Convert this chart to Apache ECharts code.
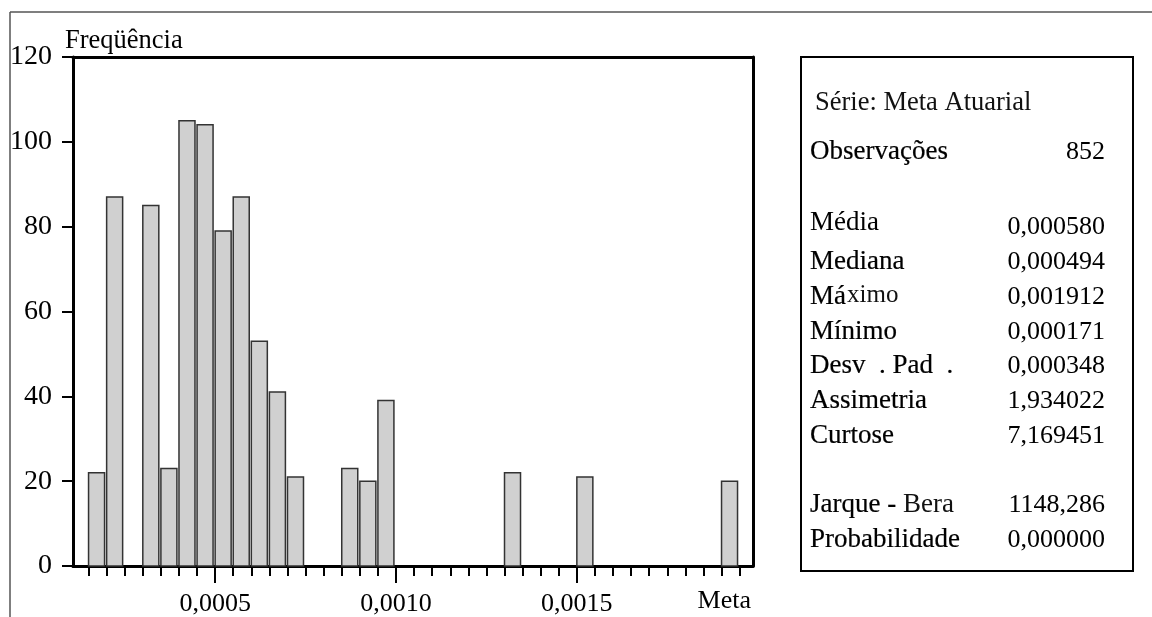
<!DOCTYPE html>
<html>
<head>
<meta charset="utf-8">
<script src="https://cdn.jsdelivr.net/npm/echarts@6/dist/echarts.min.js"></script>
<style>
html,body{margin:0;padding:0;background:#fff;}
#chart{width:1152px;height:617px;}
</style>
</head>
<body>
<div id="chart"></div>
<script>
// ---- data ----
const binWidth = 0.00005;
const binStarts = [0.00015, 0.00020, 0.00030, 0.00035, 0.00040, 0.00045, 0.00050, 0.00055, 0.00060, 0.00065, 0.00070, 0.00085, 0.00090, 0.00095, 0.00130, 0.00150, 0.00190];
const frequencies = [22, 87, 85, 23, 105, 104, 79, 87, 53, 41, 21, 23, 20, 39, 22, 21, 20];
const xMinorTicks = [0.00015,0.00020,0.00025,0.00030,0.00035,0.00040,0.00045,0.00050,0.00055,0.00060,0.00065,0.00070,0.00075,0.00080,0.00085,0.00090,0.00095,0.00100,0.00105,0.00110,0.00115,0.00120,0.00125,0.00130,0.00135,0.00140,0.00145,0.00150,0.00155,0.00160,0.00165,0.00170,0.00175,0.00180,0.00185,0.00190,0.00195];
const xMajorTicks = [0.0005, 0.0010, 0.0015];
const xTickLabels = ['0,0005', '0,0010', '0,0015'];
const yTicks = [0, 20, 40, 60, 80, 100, 120];
const xAxisName = 'Meta';
const yAxisName = 'Freqüência';
const seriesTitle = 'Série: Meta Atuarial';
const statLabels = ['Observações', 'Média', 'Mediana', 'Má', 'Mínimo', 'Desv  . Pad  .', 'Assimetria', 'Curtose', 'Jarque - ', 'Probabilidade'];
const statLabelTails = ['', '', '', 'ximo', '', '', '', '', 'Bera', ''];
const statValues = ['852', '0,000580', '0,000494', '0,001912', '0,000171', '0,000348', '1,934022', '7,169451', '1148,286', '0,000000'];

// ---- layout ----
const FONT = 'Liberation Serif';
const f = s => s + 'px "' + FONT + '"';
const xMin = 0.000107, xMax = 0.001987;
const statRowY = [152, 223, 262, 297, 332, 366, 401, 436, 505, 540];
const lightRows = [1];

const chart = echarts.init(document.getElementById('chart'), null, {renderer: 'canvas'});

const graphics = [
  {type: 'line', shape: {x1: 10, y1: 12, x2: 1152, y2: 12}, style: {stroke: '#555', lineWidth: 1.5}},
  {type: 'line', shape: {x1: 10, y1: 12, x2: 10, y2: 617}, style: {stroke: '#555', lineWidth: 1.5}},
  {type: 'rect', shape: {x: 801, y: 57, width: 332, height: 514}, style: {fill: 'none', stroke: '#000', lineWidth: 2}},
  {type: 'text', x: 65, y: 41, style: {text: yAxisName, font: f(26.5), fill: '#000', textAlign: 'left', textVerticalAlign: 'middle'}},
  {type: 'text', x: 751, y: 601, style: {text: xAxisName, font: f(26), fill: '#000', textAlign: 'right', textVerticalAlign: 'middle'}},
  {type: 'text', x: 815, y: 103, style: {text: seriesTitle, font: f(26.5), fill: '#111', textAlign: 'left', textVerticalAlign: 'middle'}}
];
const measure = document.createElement('canvas').getContext('2d');
statLabels.forEach((lab, i) => {
  const heavy = lightRows.indexOf(i) < 0;
  graphics.push({type: 'text', x: 810, y: statRowY[i], style: {text: lab, font: f(27), fill: '#000', stroke: heavy ? '#000' : null, lineWidth: heavy ? 0.2 : 0, textAlign: 'left', textVerticalAlign: 'middle'}});
  if (statLabelTails[i]) {
    measure.font = f(27);
    const w = measure.measureText(lab).width;
    const raised = i === 3;
    graphics.push({type: 'text', x: 810 + w + (raised ? 1 : 0), y: statRowY[i] - (raised ? 1.5 : 0), style: {text: statLabelTails[i], font: f(raised ? 25 : 27), fill: '#111', textAlign: 'left', textVerticalAlign: 'middle'}});
  }
  graphics.push({type: 'text', x: 1105, y: statRowY[i] + (i === 1 ? 4 : 0), style: {text: statValues[i], font: f(26), fill: '#000', textAlign: 'right', textVerticalAlign: 'middle'}});
});

const option = {
  animation: false,
  backgroundColor: '#fff',
  textStyle: {fontFamily: FONT},
  grid: {left: 73, right: 399, top: 57, bottom: 51, containLabel: false},
  xAxis: [
    {
      type: 'value', min: xMin, max: xMax, position: 'bottom',
      axisLine: {show: true, lineStyle: {color: '#000', width: 3}},
      axisTick: {show: true, customValues: xMinorTicks, length: 10, lineStyle: {color: '#000', width: 2}},
      axisLabel: {show: false},
      splitLine: {show: false}
    },
    {
      type: 'value', min: xMin, max: xMax, position: 'bottom',
      axisLine: {show: false},
      axisTick: {show: true, customValues: xMajorTicks, length: 17, lineStyle: {color: '#000', width: 2}},
      axisLabel: {show: true, customValues: xMajorTicks, margin: 25, fontSize: 26, fontFamily: FONT, color: '#000',
        formatter: v => { const i = xMajorTicks.findIndex(t => Math.abs(t - v) < 1e-9); return i >= 0 ? xTickLabels[i] : ''; }},
      splitLine: {show: false}
    },
    {
      type: 'value', min: xMin, max: xMax, position: 'top',
      axisLine: {show: true, lineStyle: {color: '#000', width: 3}},
      axisTick: {show: false}, axisLabel: {show: false}, splitLine: {show: false}
    }
  ],
  yAxis: [
    {
      type: 'value', min: 0, max: 120, interval: 20, position: 'left',
      axisLine: {show: true, lineStyle: {color: '#000', width: 3}},
      axisTick: {show: true, length: 11, lineStyle: {color: '#000', width: 2}},
      axisLabel: {show: true, margin: 21, fontSize: 28, fontFamily: FONT, color: '#000',
        formatter: v => yTicks.indexOf(v) >= 0 ? String(v) : ''},
      splitLine: {show: false}
    },
    {
      type: 'value', min: 0, max: 120, position: 'right',
      axisLine: {show: true, lineStyle: {color: '#000', width: 3}},
      axisTick: {show: false}, axisLabel: {show: false}, splitLine: {show: false}
    }
  ],
  series: [{
    type: 'custom',
    xAxisIndex: 0, yAxisIndex: 0,
    encode: {x: 0, y: 1},
    data: binStarts.map((s, i) => [s, frequencies[i]]),
    renderItem: (params, api) => {
      const s = api.value(0), c = api.value(1);
      const p0 = api.coord([s, 0]);
      const p1 = api.coord([s + binWidth, c]);
      const w = (p1[0] - p0[0]) * 0.885;
      return {
        type: 'rect',
        shape: {x: p0[0], y: p1[1], width: w, height: p0[1] - p1[1]},
        style: {fill: '#d0d0d0', stroke: '#333', lineWidth: 1.5}
      };
    }
  }],
  graphic: graphics
};
chart.setOption(option);
</script>
</body>
</html>
